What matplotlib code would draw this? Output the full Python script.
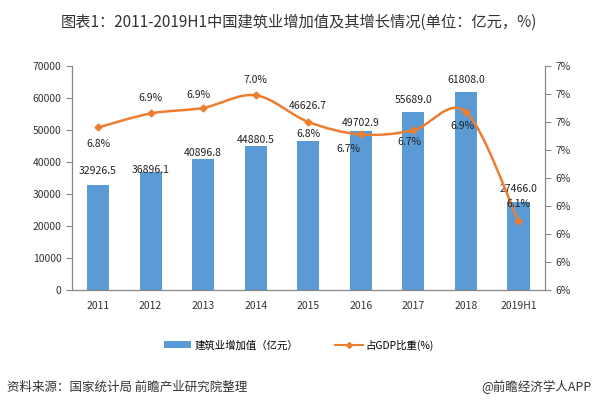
import matplotlib
matplotlib.use('Agg')
import matplotlib.pyplot as plt
from matplotlib.path import Path
from matplotlib.patches import PathPatch, Patch
from matplotlib.lines import Line2D
from matplotlib.ticker import FuncFormatter

plt.rcParams['font.family'] = ['Noto Sans CJK SC', 'DejaVu Sans']

# data
years = ['2011', '2012', '2013', '2014', '2015', '2016', '2017', '2018', '2019H1']
added_value = [32926.5, 36896.1, 40896.8, 44880.5, 46626.7, 49702.9, 55689.0, 61808.0, 27466.0]
gdp_share = [6.76, 6.86, 6.90, 6.99, 6.80, 6.71, 6.74, 6.87, 6.09]

# label offsets in pixels (dx, dy)
bar_label_off = [(0, 14), (0, 2), (0, 6), (0, 6), (0, 35), (0, 8), (0, 12), (0, 12), (0, 13)]
pct_label_off = [(0, -17), (0, 15), (-5, 13), (0, 15), (0, -12), (-12, -15), (-4, -12), (-4, -14), (0, 17)]

bar_color = '#5B9BD5'
line_color = '#ED7D31'
axis_color = '#868686'

fig = plt.figure(figsize=(5.98, 4.09), dpi=100)
ax = fig.add_axes([0.120, 0.291, 0.791, 0.548])
ax2 = ax.twinx()

x = list(range(len(years)))
ax.bar(x, added_value, width=0.42, color=bar_color, zorder=2)
ax.set_xlim(-0.5, len(years) - 0.5)
ax.set_ylim(0, 70000)
ax.set_yticks(range(0, 70001, 10000))
ax.set_xticks(x)
ax.set_xticklabels(years)

ax2.set_ylim(5.6, 7.2)
ax2.set_yticks([5.6 + 0.2 * i for i in range(9)])
ax2.yaxis.set_major_formatter(FuncFormatter(lambda v, p: '%d%%' % round(v)))

for a in (ax, ax2):
    for side in ('top',):
        a.spines[side].set_visible(False)
    for side in ('left', 'right', 'bottom'):
        a.spines[side].set_color(axis_color)
        a.spines[side].set_linewidth(0.8)
    a.tick_params(axis='y', colors=axis_color, labelcolor='#333333', labelsize=7.5, length=4, width=0.8)
    a.tick_params(axis='x', length=0, labelsize=7.5, labelcolor='#333333', pad=8)

# smooth line (Catmull-Rom as cubic Bezier segments)
pts = list(zip(x, gdp_share))
verts = [pts[0]]
codes = [Path.MOVETO]
n = len(pts)
for i in range(n - 1):
    p0 = pts[i - 1] if i > 0 else pts[i]
    p1 = pts[i]
    p2 = pts[i + 1]
    p3 = pts[i + 2] if i + 2 < n else pts[i + 1]
    c1 = (p1[0] + (p2[0] - p0[0]) / 6, p1[1] + (p2[1] - p0[1]) / 6)
    c2 = (p2[0] - (p3[0] - p1[0]) / 6, p2[1] - (p3[1] - p1[1]) / 6)
    verts += [c1, c2, p2]
    codes += [Path.CURVE4] * 3
ax2.add_patch(PathPatch(Path(verts, codes), facecolor='none', edgecolor=line_color, lw=1.8, zorder=3))
ax2.plot(x, gdp_share, linestyle='none', marker='D', markersize=3.5, color=line_color, zorder=4)

for i, v in enumerate(added_value):
    ax.annotate('%.1f' % v, (i, v), xytext=bar_label_off[i], textcoords='offset pixels',
                ha='center', va='center', fontsize=7.5, color='#222222')
for i, v in enumerate(gdp_share):
    ax2.annotate('%.1f%%' % v, (i, v), xytext=pct_label_off[i], textcoords='offset pixels',
                 ha='center', va='center', fontsize=7.5, color='#222222')

fig.text(0.5, 1 - 22 / 409, '图表1：2011-2019H1中国建筑业增加值及其增长情况(单位：亿元，%)',
         ha='center', va='center', fontsize=11, color='#333333')

handles = [Patch(facecolor=bar_color), Line2D([], [], color=line_color, marker='D', markersize=3, lw=1.5)]
fig.legend(handles, ['建筑业增加值（亿元）', '占GDP比重(%)'], loc='center', ncol=2,
           bbox_to_anchor=(0.5, 1 - 345 / 409), frameon=False, fontsize=7.5,
           handlelength=2.6, handleheight=0.6, columnspacing=3.6, handletextpad=0.3)

fig.text(7 / 598, 1 - 387 / 409, '资料来源：国家统计局 前瞻产业研究院整理', ha='left', va='center',
         fontsize=9, color='#333333')
fig.text(591 / 598, 1 - 387 / 409, '@前瞻经济学人APP', ha='right', va='center',
         fontsize=9, color='#333333')

fig.savefig('out.png', dpi=100)
